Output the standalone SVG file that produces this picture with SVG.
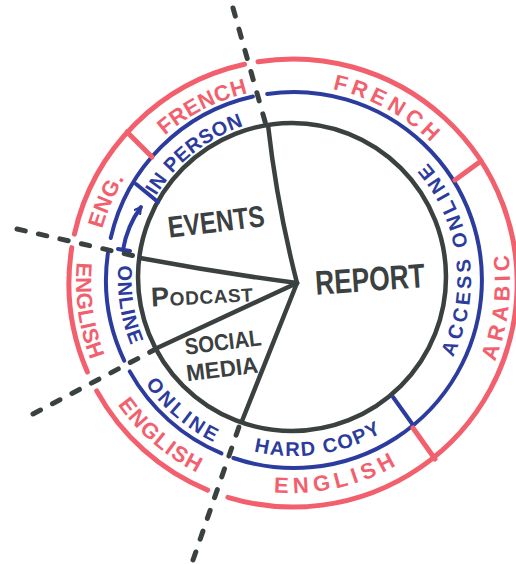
<svg xmlns="http://www.w3.org/2000/svg" width="516" height="564" viewBox="0 0 516 564">
<style>
.blk{fill:none;stroke:#3b4041;stroke-width:4.5;stroke-linecap:round;stroke-linejoin:round}
.blu{fill:none;stroke:#2c3c9e;stroke-width:4;stroke-linecap:round;stroke-linejoin:round}
.red{fill:none;stroke:#f3606d;stroke-width:5;stroke-linecap:round;stroke-linejoin:round}
.dash{fill:none;stroke:#3b4041;stroke-width:5;stroke-linecap:round;stroke-dasharray:8.5 13.5}
.tb{font-family:"Liberation Sans",Arial,sans-serif;font-weight:700;fill:#3b4041}
.tu{font-family:"Liberation Sans",Arial,sans-serif;font-weight:700;fill:#2c3c9e;font-size:20px}
.tr{font-family:"Liberation Sans",Arial,sans-serif;font-weight:700;fill:#f3606d;font-size:22px}
</style>
<defs>
<marker id="arrowhead" viewBox="0 0 10 10" refX="8" refY="5" markerWidth="9" markerHeight="9" markerUnits="userSpaceOnUse" orient="auto">
<path d="M1,1 L8,5 L1,9" fill="none" stroke="#2c3c9e" stroke-width="2.4" stroke-linecap="round" stroke-linejoin="round"/>
</marker>
<path id="p-inperson" d="M144.2,220 A161,161 0 0 1 270.2,119.8"/>
<path id="p-online-left" d="M129.7,215.9 A176,176 0 0 0 157.2,389.8"/>
<path id="p-online-bl" d="M123,341.2 A182,182 0 0 0 262.4,458.2"/>
<path id="p-hardcopy" d="M229.1,443.7 A177,177 0 0 0 404.2,417.5"/>
<path id="p-access" d="M444.1,372.8 A177,177 0 0 0 412.4,147.5"/>
<path id="p-eng" d="M95.4,269.3 A197,197 0 0 1 149.6,145.9"/>
<path id="p-french-l" d="M150.1,149.7 A194,194 0 0 1 268.4,89.5"/>
<path id="p-french-r" d="M322.8,87.4 A197,197 0 0 1 440.7,152.7"/>
<path id="p-arabic" d="M487.1,379.3 A218,218 0 0 0 504,231.1"/>
<path id="p-english-br" d="M255.4,489.8 A211,211 0 0 0 416,452.7"/>
<path id="p-english-bl" d="M106.6,386.9 A213,213 0 0 0 217.4,481.5"/>
<path id="p-english-l" d="M80.7,237.1 A216,216 0 0 0 101.3,383.4"/>
</defs>

<g id="pie">
<circle class="blk" cx="292" cy="277" r="154"/>
<g id="pie-dividers">
<path class="blk" d="M297,283 Q277,205 268,125"/>
<path class="blk" d="M297,283 Q220,273 140,258"/>
<path class="blk" d="M297,283 L155,349"/>
<path class="blk" d="M297,283 L242,421"/>
</g>
<g id="events"><text class="tb" x="216" y="232" font-size="30" text-anchor="middle" textLength="97" lengthAdjust="spacingAndGlyphs" transform="rotate(-7 216 221)">EVENTS</text></g>
<g id="podcast"><text class="tb" x="151" y="304" font-size="19" letter-spacing="0.6" transform="rotate(-3 201 296)"><tspan font-size="27">P</tspan>ODCAST</text></g>
<g id="social-media">
<text class="tb" x="223" y="350" font-size="23" text-anchor="middle" textLength="77" lengthAdjust="spacingAndGlyphs" transform="rotate(-7 223 342)">SOCIAL</text>
<text class="tb" x="222" y="377" font-size="23" text-anchor="middle" textLength="72" lengthAdjust="spacingAndGlyphs" transform="rotate(-7 222 368)">MEDIA</text>
</g>
<g id="report"><text class="tb" x="370" y="291" font-size="34" text-anchor="middle" textLength="110" lengthAdjust="spacingAndGlyphs" transform="rotate(-4 370 279)">REPORT</text></g>
</g>

<g id="format-ring">
<path class="blu" d="M110.7,238 A188,188 0 0 1 253,96.5"/>
<path class="blu" d="M267.2,93.9 A188,188 0 1 1 233.4,458"/>
<path class="blu" d="M221.5,453.4 A188,188 0 0 1 129.7,371.4"/>
<path class="blu" d="M124.2,360.6 A188,188 0 0 1 107.9,253.2"/>
<path class="blu" d="M136,184 L158,202"/>
<path class="blu" d="M393,397 L413,425"/>
<g id="arrow">
<path class="blu" d="M123,250 Q127,226 141,207" stroke-width="3" marker-end="url(#arrowhead)"/>
<path class="blu" d="M118,249 L130,251" stroke-width="3"/>
</g>
<g id="in-person"><text class="tu" letter-spacing="0.5"><textPath href="#p-inperson" startOffset="50%" text-anchor="middle">IN PERSON</textPath></text></g>
<g id="online-left"><text class="tu" letter-spacing="1.2"><textPath href="#p-online-left" startOffset="50%" text-anchor="middle">ONLINE</textPath></text></g>
<g id="online-bottom"><text class="tu" letter-spacing="3"><textPath href="#p-online-bl" startOffset="50%" text-anchor="middle">ONLINE</textPath></text></g>
<g id="hard-copy"><text class="tu" letter-spacing="1.5"><textPath href="#p-hardcopy" startOffset="50%" text-anchor="middle">HARD COPY</textPath></text></g>
<g id="access-online"><text class="tu" letter-spacing="3.6"><textPath href="#p-access" startOffset="50%" text-anchor="middle">ACCESS ONLINE</textPath></text></g>
</g>

<g id="language-ring">
<path class="red" d="M74.4,234.1 A224,224 0 0 1 244.5,64.3"/>
<path class="red" d="M258,61.8 A224,224 0 1 1 227.9,497.3"/>
<path class="red" d="M207.6,490.1 A224,224 0 0 1 96.7,390.9"/>
<path class="red" d="M87.4,372 A224,224 0 0 1 71.8,247.6"/>
<path class="red" d="M127,132 L152,157"/>
<path class="red" d="M455,180 L481,161"/>
<path class="red" d="M413,428 L435,459"/>
<g id="eng"><text class="tr" letter-spacing="0.5"><textPath href="#p-eng" startOffset="50%" text-anchor="middle">ENG.</textPath></text></g>
<g id="french-left"><text class="tr" letter-spacing="0.5"><textPath href="#p-french-l" startOffset="50%" text-anchor="middle">FRENCH</textPath></text></g>
<g id="french-right"><text class="tr" letter-spacing="4.4"><textPath href="#p-french-r" startOffset="50%" text-anchor="middle">FRENCH</textPath></text></g>
<g id="arabic"><text class="tr" letter-spacing="4.7"><textPath href="#p-arabic" startOffset="50%" text-anchor="middle">ARABIC</textPath></text></g>
<g id="english-bottom-right"><text class="tr" letter-spacing="4.9"><textPath href="#p-english-br" startOffset="50%" text-anchor="middle">ENGLISH</textPath></text></g>
<g id="english-bottom-left"><text class="tr" letter-spacing="1.3"><textPath href="#p-english-bl" startOffset="50%" text-anchor="middle">ENGLISH</textPath></text></g>
<g id="english-left"><text class="tr" letter-spacing="0.3"><textPath href="#p-english-l" startOffset="50%" text-anchor="middle">ENGLISH</textPath></text></g>
</g>

<g id="connectors">
<path class="dash" d="M233,8 L266,125"/>
<path class="dash" d="M17,229 L139,257"/>
<path class="dash" d="M33,414 L154,350"/>
<path class="dash" d="M193,560 L241,421"/>
</g>
</svg>
